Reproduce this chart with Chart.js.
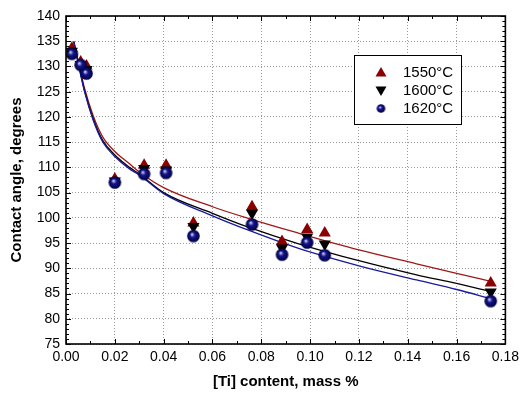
<!DOCTYPE html>
<html><head><meta charset="utf-8">
<script src="https://cdn.jsdelivr.net/npm/chart.js@4/dist/chart.umd.min.js"></script>
<style>html,body{margin:0;padding:0;background:#fff;}#wrap{width:524px;height:394px;}</style>
</head><body><div id="wrap"><canvas id="c" width="524" height="394"></canvas></div>
<script>
// ---- data ----
const tiContent = [0.0024, 0.0060, 0.0084, 0.0200, 0.0320, 0.0410, 0.0522, 0.0762, 0.0885, 0.0988, 0.1060, 0.1740];
const angle1550 = [133.6, 130.9, 130.1, 107.7, 110.4, 110.4, 99.0, 102.2, 95.3, 97.7, 97.0, 87.1];
const angle1600 = [133.0, 130.4, 129.4, 107.3, 109.8, 109.5, 98.3, 100.9, 94.0, 96.2, 94.8, 85.3];
const angle1620 = [132.5, 130.3, 128.6, 107.0, 108.7, 108.9, 96.4, 98.7, 92.7, 95.1, 92.6, 83.5];

const fitX    = [0.0032, 0.0057, 0.0077, 0.0111, 0.0151, 0.0199, 0.026, 0.030, 0.040, 0.060, 0.075, 0.095, 0.120, 0.1436, 0.160, 0.174];
const fit1550 = [135.0, 129.5, 125.5, 120.3, 116.0, 113.2, 110.7, 109.1, 106.0, 102.2, 99.85, 97.0, 93.65, 90.9, 89.0, 87.4];
const fit1600 = [134.9, 129.2, 125.0, 119.7, 115.3, 112.5, 110.0, 108.7, 105.0, 100.9, 98.1, 94.9, 91.5, 88.7, 87.0, 85.4];
const fit1620 = [134.8, 129.0, 124.8, 119.4, 115.0, 112.2, 109.7, 108.5, 104.8, 100.4, 97.5, 94.0, 90.5, 87.7, 85.8, 84.0];

const seriesLabels = ['1550°C', '1600°C', '1620°C'];
const yTickValues = [75, 80, 85, 90, 95, 100, 105, 110, 115, 120, 125, 130, 135, 140];
const xTickValues = [0, 0.02, 0.04, 0.06, 0.08, 0.10, 0.12, 0.14, 0.16, 0.18];

// ---- styles ----
const RED = '#8b0000', RED_LINE = '#a01818', BLACK = '#000000', BLUE_LINE = '#1a1a9e';
const FONT = "'Liberation Sans', Arial, sans-serif";

function sphere(r) {
  const s = Math.ceil(2 * r + 2);
  const c = document.createElement('canvas');
  c.width = c.height = s;
  const g = c.getContext('2d');
  const cx = s / 2, cy = s / 2;
  const grad = g.createRadialGradient(cx - r * 0.25, cy - r * 0.3, 0, cx, cy, r);
  grad.addColorStop(0, '#ffffff');
  grad.addColorStop(0.15, '#9a9ad8');
  grad.addColorStop(0.4, '#14148c');
  grad.addColorStop(1, '#000040');
  g.fillStyle = grad;
  g.beginPath(); g.arc(cx, cy, r, 0, Math.PI * 2); g.fill();
  return c;
}
const bigSphere = sphere(6.3);
const smallSphere = sphere(4.3);

const pts = ys => tiContent.map((x, i) => ({x, y: ys[i]}));
const fitPts = ys => fitX.map((x, i) => ({x, y: ys[i]}));

const frameTicks = {
  id: 'frameTicks',
  afterDraw(chart) {
    const {ctx, chartArea: a, scales: {x, y}} = chart;
    ctx.save();
    ctx.strokeStyle = '#000';
    ctx.lineWidth = 1;
    const seg = (x1, y1, x2, y2) => { ctx.beginPath(); ctx.moveTo(x1, y1); ctx.lineTo(x2, y2); ctx.stroke(); };
    for (let v = 75; v <= 140; v++) {
      const yy = Math.round(y.getPixelForValue(v)) + 0.5;
      const L = v % 5 === 0 ? 5 : 3;
      seg(a.left, yy, a.left + L, yy);
      seg(a.right, yy, a.right - L, yy);
    }
    for (let i = 0; i <= 18; i++) {
      const xx = Math.round(x.getPixelForValue(i * 0.01)) + 0.5;
      const L = i % 2 === 0 ? 5 : 3;
      seg(xx, a.bottom, xx, a.bottom - L);
      seg(xx, a.top, xx, a.top + L);
    }
    ctx.lineWidth = 1.6;
    ctx.strokeRect(a.left, a.top, a.right - a.left, a.bottom - a.top);
    ctx.restore();
  }
};

const boxLegend = {
  id: 'boxLegend',
  afterDatasetsDraw(chart) {
    const ctx = chart.ctx;
    ctx.save();
    ctx.fillStyle = '#fff';
    ctx.fillRect(354, 55, 107, 69);
    ctx.strokeStyle = '#000';
    ctx.lineWidth = 1;
    ctx.strokeRect(354.5, 55.5, 107, 69);
    const mx = 381, rows = [72.5, 90.5, 108.5];
    ctx.fillStyle = RED;
    ctx.beginPath(); ctx.moveTo(mx, rows[0] - 5.5); ctx.lineTo(mx + 5.5, rows[0] + 4); ctx.lineTo(mx - 5.5, rows[0] + 4); ctx.closePath(); ctx.fill();
    ctx.fillStyle = BLACK;
    ctx.beginPath(); ctx.moveTo(mx, rows[1] + 5.5); ctx.lineTo(mx + 5.5, rows[1] - 4); ctx.lineTo(mx - 5.5, rows[1] - 4); ctx.closePath(); ctx.fill();
    ctx.drawImage(smallSphere, mx - smallSphere.width / 2, rows[2] - smallSphere.height / 2);
    ctx.fillStyle = '#000';
    ctx.font = '15px ' + FONT;
    ctx.textBaseline = 'middle';
    ctx.textAlign = 'left';
    seriesLabels.forEach((t, i) => ctx.fillText(t, 403, rows[i] + 0.5));
    ctx.restore();
  }
};

new Chart(document.getElementById('c'), {
  type: 'scatter',
  data: {
    datasets: [
      {label: seriesLabels[2], data: pts(angle1620), pointStyle: bigSphere, pointRadius: 6, order: 0},
      {label: seriesLabels[1], data: pts(angle1600), pointStyle: 'triangle', rotation: 180, pointRadius: 7,
       backgroundColor: BLACK, borderColor: BLACK, borderWidth: 0, order: 1},
      {label: seriesLabels[0], data: pts(angle1550), pointStyle: 'triangle', pointRadius: 7,
       backgroundColor: RED, borderColor: RED, borderWidth: 0, order: 2},
      {type: 'line', data: fitPts(fit1550), borderColor: RED_LINE, borderWidth: 1.3, pointRadius: 0,
       cubicInterpolationMode: 'monotone', fill: false, order: 5},
      {type: 'line', data: fitPts(fit1600), borderColor: BLACK, borderWidth: 1.3, pointRadius: 0,
       cubicInterpolationMode: 'monotone', fill: false, order: 4},
      {type: 'line', data: fitPts(fit1620), borderColor: BLUE_LINE, borderWidth: 1.3, pointRadius: 0,
       cubicInterpolationMode: 'monotone', fill: false, order: 3}
    ]
  },
  options: {
    responsive: false,
    animation: false,
    devicePixelRatio: 1,
    layout: {padding: {left: 0, top: 16, right: 15, bottom: 0}},
    plugins: {legend: {display: false}, tooltip: {enabled: false}},
    scales: {
      x: {
        type: 'linear', min: 0, max: 0.18,
        afterBuildTicks: s => { s.ticks = xTickValues.map(v => ({value: v})); },
        afterFit: s => { s.height = 50; },
        grid: {color: '#9a9a9a', drawTicks: false, lineWidth: 1},
        border: {display: false, dash: [1, 2]},
        ticks: {font: {family: FONT, size: 14}, color: '#000', padding: 5, callback: v => v.toFixed(2), maxRotation: 0},
        title: {display: true, text: '[Ti] content, mass %', font: {family: FONT, size: 15, weight: 'bold'}, color: '#000', padding: {top: 0, bottom: 3}}
      },
      y: {
        type: 'linear', min: 75, max: 140,
        afterBuildTicks: s => { s.ticks = yTickValues.map(v => ({value: v})); },
        afterFit: s => { s.width = 66; },
        grid: {color: '#9a9a9a', drawTicks: false, lineWidth: 1},
        border: {display: false, dash: [1, 2]},
        ticks: {font: {family: FONT, size: 14}, color: '#000', padding: 6},
        title: {display: true, text: 'Contact angle, degrees', font: {family: FONT, size: 15, weight: 'bold'}, color: '#000', padding: {top: 7.5, bottom: 0}}
      }
    }
  },
  plugins: [boxLegend, frameTicks]
});
</script>
</body></html>
